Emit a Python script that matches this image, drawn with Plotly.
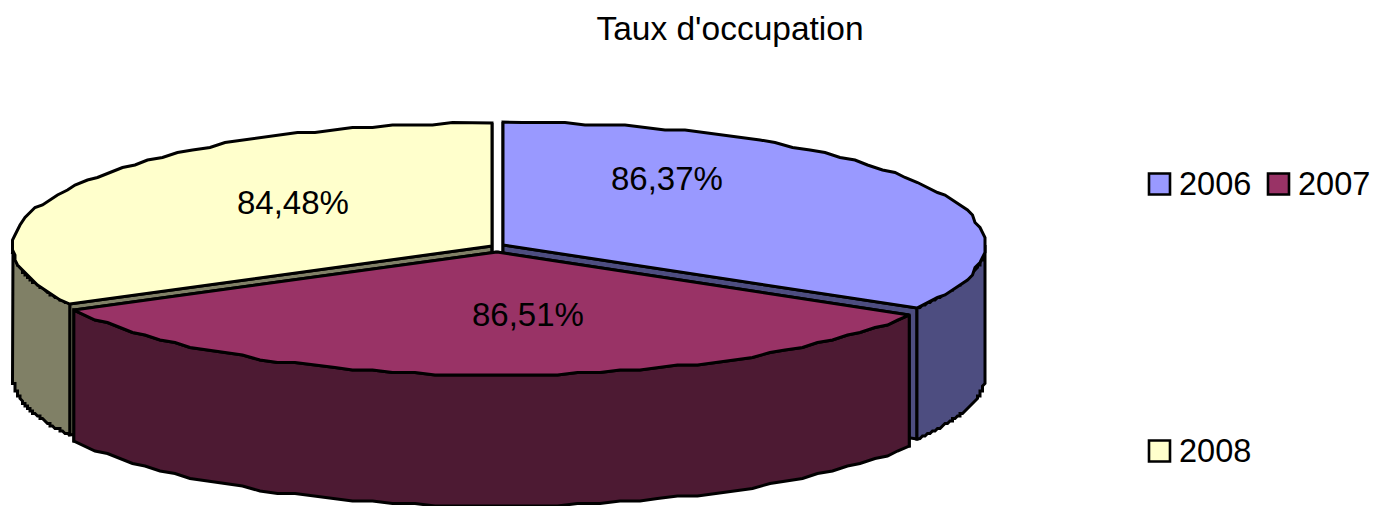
import numpy as np
import plotly.graph_objects as go

# Data
categories = ["2006", "2007", "2008"]
values = [86.37, 86.51, 84.48]
title_text = "Taux d'occupation"

# Style
top_colors = ["#9999FF", "#993366", "#FFFFCC"]
wall_colors = ["#4D4D80", "#4D1A33", "#808066"]
label_xy = [(667, 178), (528, 314), (293, 202)]
centers = [(503, 245), (497, 252), (492, 246)]
radii = [(482, 123), (480, 123), (479, 123)]
DEPTH = 131
GRID = 2.5  # the reference's rim is slightly stepped
LINE = dict(color="#000000", width=3)
FONT = dict(family="Liberation Sans", size=33, color="#000000")
LEGEND_FONT = dict(family="Liberation Sans", size=32.5, color="#000000")

W, H = 1375, 506
total = sum(values)
edges = np.cumsum([0] + [v / total * 360 for v in values])


def rim(i, a0, a1, n=50):
    a = np.radians(np.linspace(a0, a1, n))
    cx, cy = centers[i]
    rx, ry = radii[i]
    x, y = cx + rx * np.sin(a), cy - ry * np.cos(a)
    if n > 1:
        x[1:-1] = np.round(x[1:-1] / GRID) * GRID
        y[1:-1] = np.round(y[1:-1] / GRID) * GRID
    return x, y


def poly(fig, x, y, color):
    fig.add_trace(go.Scatter(x=list(x), y=list(y), mode="lines", fill="toself",
                             fillcolor=color, line=LINE, hoverinfo="skip",
                             showlegend=False))


def wedge(fig, i):
    a0, a1 = edges[i], edges[i + 1]
    cx, cy = centers[i]
    # flat cut walls seen below the top face
    for a in (a0, a1):
        x, y = rim(i, a, a, 1)
        poly(fig, [cx, x[0], x[0], cx, cx],
             [cy, y[0], y[0] + DEPTH, cy + DEPTH, cy], wall_colors[i])
    # outer wall: the part of the rim that faces the viewer
    lo, hi = max(a0, 90), min(a1, 270)
    x, y = rim(i, lo, hi)
    poly(fig, np.r_[x, x[::-1], x[0]], np.r_[y, y[::-1] + DEPTH, y[0]], wall_colors[i])
    # top face
    x, y = rim(i, a0, a1)
    poly(fig, np.r_[cx, x, cx], np.r_[cy, y, cy], top_colors[i])


fig = go.Figure()
for i in (0, 2, 1):
    wedge(fig, i)

# Legend built as markers with text, to keep its wide row gap
legend_xy = [(1159.5, 184), (1278.5, 184), (1159.5, 451)]
legend_text_dx = 17
for i, name in enumerate(categories):
    fig.add_trace(go.Scatter(
        x=[legend_xy[i][0]], y=[legend_xy[i][1]], mode="markers",
        marker=dict(symbol="square", size=21, color=top_colors[i],
                    line=dict(color="#000000", width=2.6)),
        hoverinfo="skip", showlegend=False))

annotations = [
    dict(x=label_xy[i][0], y=label_xy[i][1], xref="x", yref="y", showarrow=False,
         text=f"{v:.2f}".replace(".", ",") + "%", font=FONT)
    for i, v in enumerate(values)
] + [
    dict(x=legend_xy[i][0] + legend_text_dx, y=legend_xy[i][1], xref="x", yref="y",
         xanchor="left", showarrow=False, text=name, font=LEGEND_FONT)
    for i, name in enumerate(categories)
]

fig.update_layout(
    width=W, height=H, margin=dict(l=0, r=0, t=0, b=0),
    paper_bgcolor="#FFFFFF", plot_bgcolor="#FFFFFF", showlegend=False,
    title=dict(text=title_text, x=730 / W, xanchor="center", y=1 - 28 / H, yanchor="middle",
               font=dict(family="Liberation Sans", size=33.5, color="#000000")),
    xaxis=dict(range=[0, W], visible=False, fixedrange=True),
    yaxis=dict(range=[H, 0], visible=False, fixedrange=True),
    annotations=annotations,
)
fig.write_html("out.html", config=dict(displayModeBar=False),
               post_script="document.body.style.margin='0';")
